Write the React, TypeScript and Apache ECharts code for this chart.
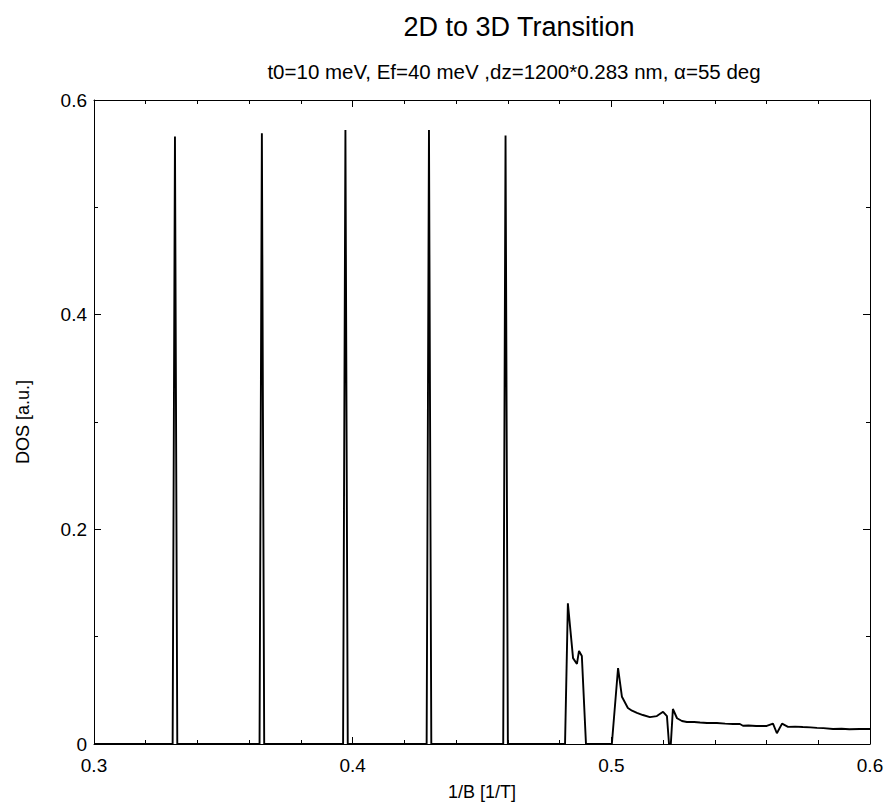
import React, { useEffect, useRef } from "react";
import * as echarts from "echarts";

const titleText = "2D to 3D Transition";
const subtitleText = "t0=10 meV, Ef=40 meV ,dz=1200*0.283 nm, \u03b1=55 deg";
const xName = "1/B [1/T]";
const yName = "DOS [a.u.]";

// narrow peaks (centre, height)
const spikeX = [0.3313, 0.3649, 0.3972, 0.4295, 0.4591];
const spikeY = [0.566, 0.569, 0.572, 0.572, 0.567];
const spikeHalfWidth = 0.0009;

// tail region (3D-like part)
const tailX = [
  0.4821, 0.4832, 0.4852, 0.4867, 0.4875, 0.4886, 0.4902,
  0.5002, 0.5026, 0.5041, 0.5064, 0.5080, 0.5099, 0.5122, 0.5149, 0.5176, 0.5200, 0.5215, 0.5223, 0.5230, 0.5238,
  0.5254, 0.5273, 0.5292, 0.5320, 0.5343, 0.5370, 0.5408, 0.5440, 0.5470, 0.5497, 0.5509, 0.5530, 0.5560, 0.5601,
  0.5625, 0.5640, 0.5660, 0.5683, 0.5710, 0.5740, 0.5770, 0.5795, 0.5820, 0.5857, 0.5890, 0.5920, 0.5960, 0.6000,
];
const tailY = [
  0.0, 0.131, 0.080, 0.0746, 0.0867, 0.082, 0.0,
  0.0, 0.0708, 0.044, 0.0335, 0.031, 0.029, 0.027, 0.025, 0.026, 0.030, 0.026, 0.0, 0.0, 0.0326,
  0.024, 0.0214, 0.0205, 0.0205, 0.020, 0.0196, 0.0196, 0.0190, 0.0186, 0.0186, 0.0170, 0.0172, 0.0168, 0.0168,
  0.019, 0.010, 0.019, 0.016, 0.0162, 0.0158, 0.0155, 0.015, 0.0148, 0.014, 0.0142, 0.0138, 0.014, 0.014,
];

const xTicks = [0.3, 0.4, 0.5, 0.6];
const yTicks = [0, 0.2, 0.4, 0.6];

function buildData(): [number, number][] {
  const d: [number, number][] = [[xTicks[0], 0]];
  spikeX.forEach((c, i) => {
    d.push([c - spikeHalfWidth, 0]);
    d.push([c, spikeY[i]]);
    d.push([c + spikeHalfWidth, 0]);
  });
  tailX.forEach((x, i) => d.push([x, tailY[i]]));
  return d;
}

const FONT = "Liberation Sans, Arial, Helvetica, sans-serif";

export default function App() {
  const ref = useRef<HTMLDivElement>(null);
  useEffect(() => {
    if (!ref.current) return;
    const chart = echarts.init(ref.current, undefined, { renderer: "svg" });
    const axisLine = { show: true, onZero: false, lineStyle: { color: "#000", width: 1 } };
    const axisTick = { show: true, inside: true, length: 7, lineStyle: { color: "#000", width: 1 } };
    const minorLine = { color: "#000", width: 1 };
    const fmt = (v: number) => String(Math.round(v * 10) / 10);
    chart.setOption({
      animation: false,
      backgroundColor: "#fff",
      title: [
        {
          text: titleText,
          left: 514,
          top: 8,
          textAlign: "center",
          textStyle: { fontFamily: FONT, fontSize: 27, fontWeight: "normal", color: "#000" },
        },
        {
          text: subtitleText,
          left: 509,
          top: 56,
          textAlign: "center",
          textStyle: { fontFamily: FONT, fontSize: 20.5, fontWeight: "normal", color: "#000" },
        },
      ],
      grid: { left: 94, right: 19, top: 100, bottom: 66, containLabel: false },
      xAxis: [
        {
          type: "value",
          min: xTicks[0],
          max: xTicks[xTicks.length - 1],
          interval: 0.1,
          position: "bottom",
          name: xName,
          nameLocation: "middle",
          nameGap: 39,
          nameTextStyle: { fontFamily: FONT, fontSize: 18, color: "#000" },
          axisLabel: { fontFamily: FONT, fontSize: 19, color: "#000", margin: 12, formatter: fmt },
          axisLine,
          axisTick,
          minorTick: { show: true, splitNumber: 5, length: 4, lineStyle: minorLine },
          splitLine: { show: false },
        },
        {
          type: "value",
          min: xTicks[0],
          max: xTicks[xTicks.length - 1],
          interval: 0.1,
          position: "top",
          axisLabel: { show: false },
          axisLine,
          axisTick,
          minorTick: { show: true, splitNumber: 5, length: 4, lineStyle: minorLine },
          splitLine: { show: false },
        },
      ],
      yAxis: [
        {
          type: "value",
          min: yTicks[0],
          max: yTicks[yTicks.length - 1],
          interval: 0.2,
          position: "left",
          name: yName,
          nameLocation: "middle",
          nameGap: 62,
          nameTextStyle: { fontFamily: FONT, fontSize: 18, color: "#000" },
          axisLabel: { fontFamily: FONT, fontSize: 19, color: "#000", margin: 7, formatter: fmt },
          axisLine,
          axisTick,
          minorTick: { show: true, splitNumber: 2, length: 4, lineStyle: minorLine },
          splitLine: { show: false },
        },
        {
          type: "value",
          min: yTicks[0],
          max: yTicks[yTicks.length - 1],
          interval: 0.2,
          position: "right",
          axisLabel: { show: false },
          axisLine,
          axisTick,
          minorTick: { show: true, splitNumber: 2, length: 4, lineStyle: minorLine },
          splitLine: { show: false },
        },
      ],
      series: [
        {
          type: "line",
          xAxisIndex: 0,
          yAxisIndex: 0,
          data: buildData(),
          showSymbol: false,
          symbol: "none",
          lineStyle: { color: "#000", width: 1.9 },
          clip: true,
        },
      ],
    });
    return () => chart.dispose();
  }, []);
  return (
    <div
      ref={ref}
      style={{ position: "absolute", left: 0, top: 0, width: 889, height: 810 }}
    />
  );
}
